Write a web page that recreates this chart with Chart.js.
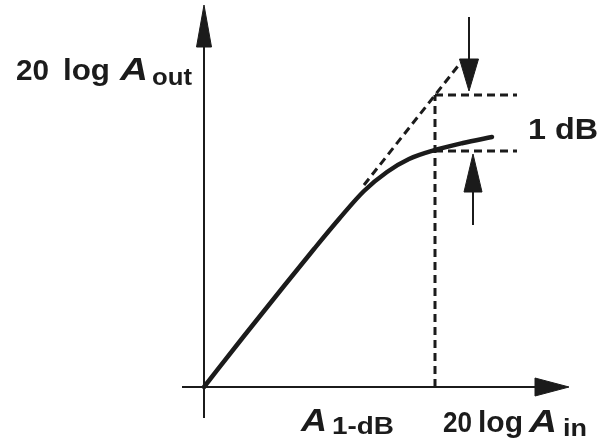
<!DOCTYPE html>
<html>
<head>
<meta charset="utf-8">
<script src="https://cdn.jsdelivr.net/npm/chart.js@4"></script>
<style>
  html, body { margin: 0; padding: 0; background: #ffffff; }
  #wrap { width: 605px; height: 444px; position: relative; }
</style>
</head>
<body>
<div id="wrap"><canvas id="c"></canvas></div>
<script>
// ---- data (units: arbitrary dB-like units, origin at axes crossing) ----
const curveX = [0, 40, 80, 110, 135, 160, 183, 205, 231, 259, 288];
const curveY = [0, 51, 101, 138, 168, 196, 215, 228, 237, 244, 250];
const tangentX = [160, 254];
const tangentY = [202, 321];
const compX = 231;            // A_1-dB
const idealOut = 292;         // extrapolated linear output at A_1-dB
const actualOut = 236;        // compressed output at A_1-dB
const guideEndX = 313;
const xAxisX = [-22, 340];
const yAxisY = [-31, 345];
const downArrowX = 265, downArrowY = [370, 300];
const upArrowX = 269, upArrowY = [162, 225];
// arrow heads: [tipX, tipY, baseX, baseY]
const heads = [
  [0, 382, 0, 340],
  [365, 0, 331, 0],
  [downArrowX, 296, downArrowX, 328],
  [upArrowX, 233, upArrowX, 195]
];
const headHalfW = [7.5, 9, 9.5, 9];

const ink = '#1b1b1b';
const pts = (xs, ys) => xs.map((x, i) => ({x, y: ys[i]}));

const lineDs = (data, opts) => Object.assign({
  data, showLine: true, pointRadius: 0, borderColor: ink, borderWidth: 2,
  fill: false, tension: 0
}, opts || {});

const dash = [8, 5];

const headsPlugin = {
  id: 'heads',
  afterDatasetsDraw(chart) {
    const ctx = chart.ctx, xs = chart.scales.x, ys = chart.scales.y;
    ctx.save();
    ctx.fillStyle = ink;
    ctx.strokeStyle = ink;
    ctx.lineWidth = 1;
    heads.forEach((h, i) => {
      const tx = xs.getPixelForValue(h[0]), ty = ys.getPixelForValue(h[1]);
      const bx = xs.getPixelForValue(h[2]), by = ys.getPixelForValue(h[3]);
      const dx = tx - bx, dy = ty - by, len = Math.hypot(dx, dy);
      const nx = -dy / len, ny = dx / len, w = headHalfW[i];
      ctx.beginPath();
      ctx.moveTo(tx, ty);
      ctx.lineTo(bx + nx * w, by + ny * w);
      ctx.lineTo(bx - nx * w, by - ny * w);
      ctx.closePath();
      ctx.fill();
      ctx.stroke();
    });

    // labels
    const fam = '"Liberation Sans", Arial, sans-serif';
    function txt(s, x, base, size, width, italic) {
      ctx.save();
      ctx.font = (italic ? 'italic ' : '') + 'bold ' + size + 'px ' + fam;
      ctx.textBaseline = 'alphabetic';
      ctx.textAlign = 'left';
      const m = ctx.measureText(s).width;
      ctx.translate(x, base);
      ctx.scale(width / m, 1);
      ctx.fillStyle = ink;
      ctx.fillText(s, 0, 0);
      ctx.restore();
    }
    txt('20', 16, 80, 29, 33, false);
    txt('log', 63, 80, 29, 47, false);
    txt('A', 120, 80, 31, 28, true);
    txt('out', 152, 85, 24, 40, false);

    txt('A', 301, 431, 32, 26, true);
    txt('1-dB', 332, 434, 24, 62, false);
    txt('20', 443, 432, 29, 29, false);
    txt('log', 478, 432, 29, 45, false);
    txt('A', 529, 432, 31, 28, true);
    txt('in', 563, 436, 24, 24, false);

    txt('1 dB', 528, 139, 30, 70, false);
    ctx.restore();
  }
};

new Chart(document.getElementById('c'), {
  type: 'scatter',
  data: {
    datasets: [
      lineDs(pts(xAxisX, [0, 0]), {borderWidth: 2}),
      lineDs(pts([0, 0], yAxisY), {borderWidth: 2}),
      lineDs(pts(tangentX, tangentY), {borderDash: dash, borderWidth: 3}),
      lineDs(pts([compX, compX], [0, idealOut]), {borderDash: dash, borderWidth: 3}),
      lineDs(pts([compX, guideEndX], [idealOut, idealOut]), {borderDash: dash, borderWidth: 3}),
      lineDs(pts([compX, guideEndX], [actualOut, actualOut]), {borderDash: dash, borderWidth: 3}),
      lineDs(pts([downArrowX, downArrowX], downArrowY), {borderWidth: 2}),
      lineDs(pts([upArrowX, upArrowX], upArrowY), {borderWidth: 2}),
      lineDs(pts(curveX, curveY), {borderWidth: 4.5, cubicInterpolationMode: 'monotone', borderCapStyle: 'round'})
    ]
  },
  options: {
    responsive: true,
    maintainAspectRatio: false,
    animation: false,
    layout: { padding: 0 },
    plugins: { legend: { display: false }, tooltip: { enabled: false } },
    scales: {
      x: { type: 'linear', min: -204, max: 401, display: false },
      y: { type: 'linear', min: -57, max: 387, display: false }
    }
  },
  plugins: [headsPlugin]
});
</script>
</body>
</html>
